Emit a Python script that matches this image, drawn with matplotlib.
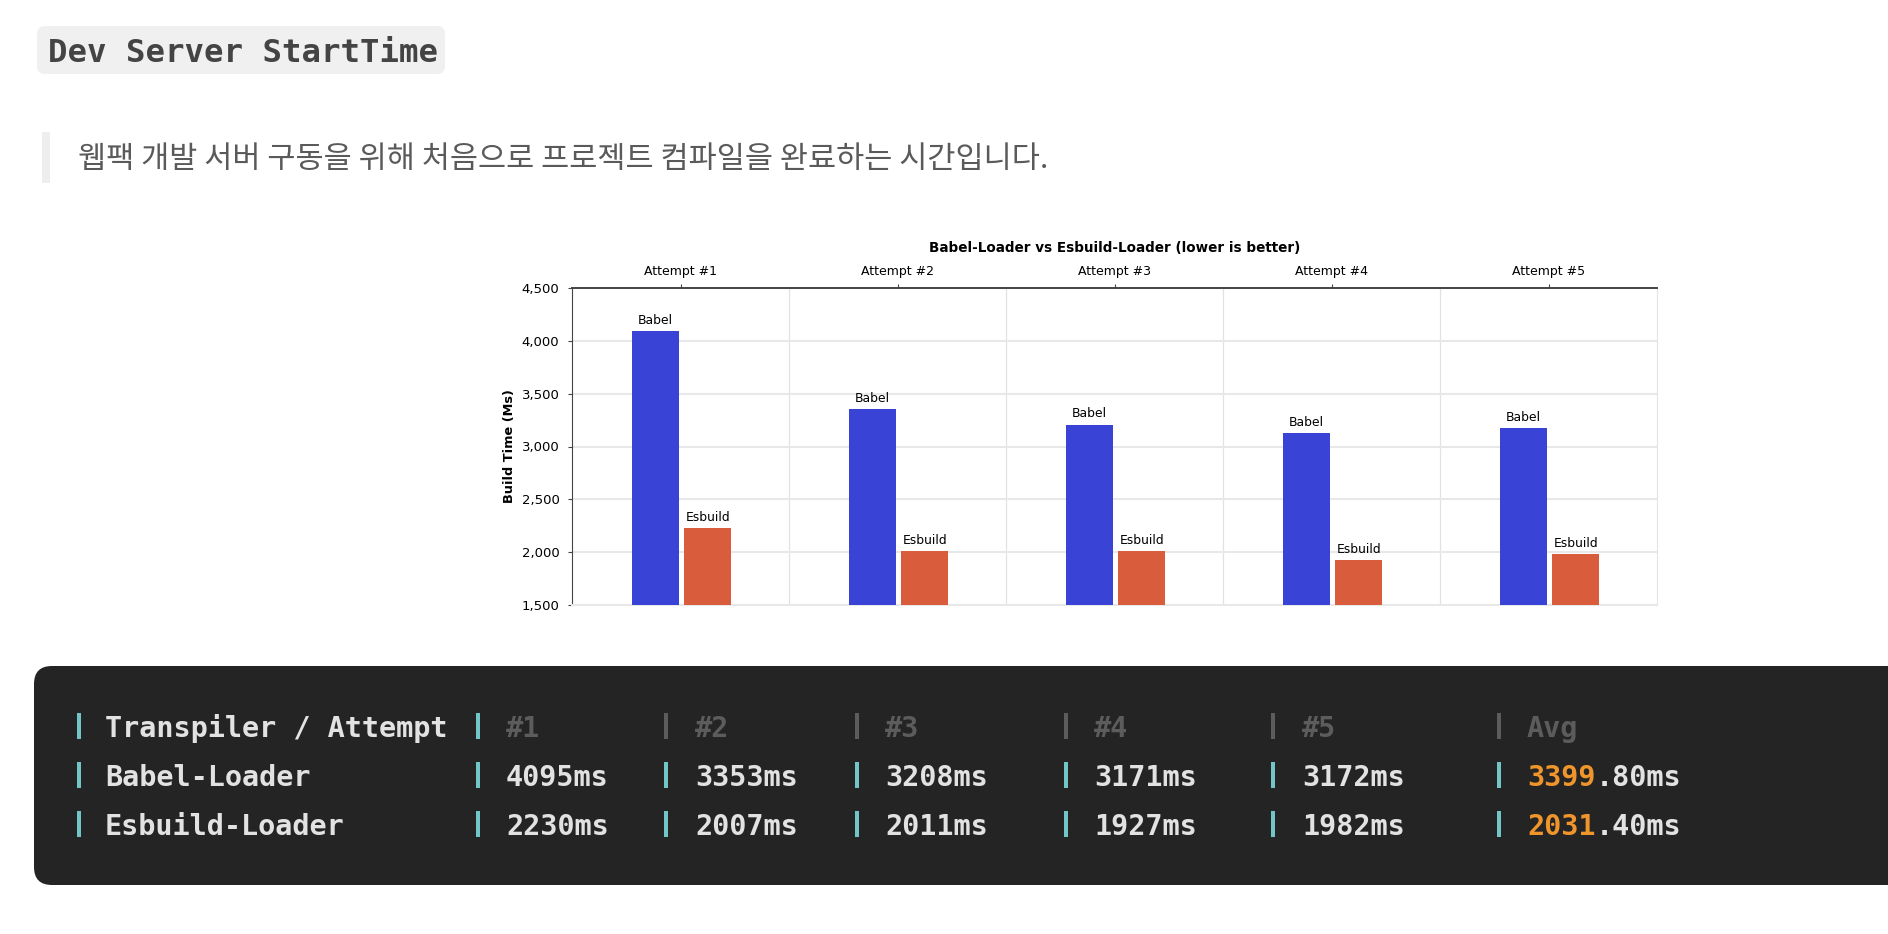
import matplotlib
matplotlib.use('Agg')
import matplotlib.pyplot as plt
import matplotlib.patches as mpatches
from matplotlib.ticker import FuncFormatter, FixedLocator
import numpy as np

# 차트 데이터
attempts = ['Attempt #1', 'Attempt #2', 'Attempt #3', 'Attempt #4', 'Attempt #5']
babel_chart = [4095, 3353, 3208, 3130, 3172]
esbuild_chart = [2230, 2007, 2011, 1927, 1982]

# 표 데이터
table_head = ['#1', '#2', '#3', '#4', '#5', 'Avg']
row_names = ['Babel-Loader', 'Esbuild-Loader']
babel_ms = [4095, 3353, 3208, 3171, 3172]
esbuild_ms = [2230, 2007, 2011, 1927, 1982]

title_text = 'Dev Server StartTime'
quote_text = '웹팩 개발 서버 구동을 위해 처음으로 프로젝트 컴파일을 완료하는 시간입니다.'

W, H = 1888, 934
fig = plt.figure(figsize=(W / 100, H / 100), dpi=100)
bg = fig.add_axes([0, 0, 1, 1])
bg.set_xlim(0, W)
bg.set_ylim(H, 0)
bg.axis('off')

mono = 'DejaVu Sans Mono'

# 1. 제목 (인라인 코드 박스)
bg.add_patch(mpatches.FancyBboxPatch((37, 26), 408, 48,
             boxstyle='round,pad=0,rounding_size=8', fc='#f0f0f0', ec='none'))
bg.text(48, 62, title_text, family=mono, weight='bold', fontsize=23.3,
        color='#444444', va='baseline', ha='left')

# 2. 인용문
bg.add_patch(mpatches.Rectangle((42, 132), 8, 51, fc='#eeeeee', ec='none'))
bg.text(78, 168, quote_text, family=['Noto Sans CJK KR', 'DejaVu Sans'],
        fontsize=22, color='#5a5a5a', va='baseline', ha='left')

# 3. 막대 차트
L, R, T, B = 572, 1657, 288, 605
ax = fig.add_axes([L / W, 1 - B / H, (R - L) / W, (B - T) / H])
x = np.arange(len(attempts))
bw = 0.22
b1 = ax.bar(x - 0.115, babel_chart, bw, color='#3944d6', zorder=3)
b2 = ax.bar(x + 0.125, esbuild_chart, bw, color='#d95d3c', zorder=3)
ax.bar_label(b1, labels=['Babel'] * len(x), padding=3, fontsize=8.9)
ax.bar_label(b2, labels=['Esbuild'] * len(x), padding=3, fontsize=8.9)

ax.set_xlim(-0.5, len(x) - 0.5)
ax.set_ylim(1500, 4500)
ax.set_yticks(np.arange(1500, 4501, 500))
ax.yaxis.set_major_formatter(FuncFormatter(lambda v, p: f'{v:,.0f}'))
ax.xaxis.tick_top()
ax.set_xticks(x)
ax.set_xticklabels(attempts, fontsize=9)
ax.xaxis.set_minor_locator(FixedLocator(x[:-1] + 0.5))
ax.tick_params(axis='x', which='major', length=3, pad=4, color='#444444')
ax.tick_params(axis='x', which='minor', length=0)
ax.tick_params(axis='y', length=3, pad=6, labelsize=9.5, color='#444444')
ax.grid(axis='y', color='#e8e8e8', lw=1.5, zorder=0)
ax.grid(axis='x', which='minor', color='#e2e2e2', lw=0.9, zorder=0)
ax.spines['top'].set_color('#444444')
ax.spines['top'].set_linewidth(1.4)
ax.spines['left'].set_color('#444444')
ax.spines['right'].set_color('#e4e4e4')
ax.spines['bottom'].set_color('#e8e8e8')
ax.spines['bottom'].set_linewidth(1.5)
ax.set_ylabel('Build Time (Ms)', fontsize=9.3, fontweight='bold')
ax.yaxis.set_label_coords((516 - L) / (R - L), 0.5)
ax.text(0.5, 1 + 40 / (B - T), 'Babel-Loader vs Esbuild-Loader (lower is better)',
        transform=ax.transAxes, ha='center', va='center', fontsize=9.75, fontweight='bold')

# 4. 결과 표 (다크 코드 블록)
bg.add_patch(mpatches.FancyBboxPatch((34, 666), 1900, 219,
             boxstyle='round,pad=0,rounding_size=18', fc='#242424', ec='none'))
fs = 20.5
adv = 0.602 * fs * 100 / 72
teal, dim, fg, orange = '#72c6c8', '#5c5c5c', '#e2e2e2', '#f0952c'
col_x = [506, 695, 885, 1094, 1302, 1527]
bar_x = [79, 478, 666, 857, 1066, 1273, 1499]
base_y = [737, 786, 835]


def vbar(xc, yb, c):
    bg.add_patch(mpatches.Rectangle((xc - 2, yb - 24), 4, 26, fc=c, ec='none'))


def mtext(xp, yp, s, c):
    bg.text(xp, yp, s, family=mono, weight='bold', fontsize=fs, color=c, va='baseline')


# 헤더 행
for i, bx in enumerate(bar_x):
    vbar(bx, base_y[0], teal if i < 2 else dim)
mtext(105, base_y[0], 'Transpiler / Attempt', fg)
for cx, h in zip(col_x, table_head):
    mtext(cx, base_y[0], h, dim)

# 값 행
for yb, name, vals in zip(base_y[1:], row_names, [babel_ms, esbuild_ms]):
    for bx in bar_x:
        vbar(bx, yb, teal)
    mtext(105, yb, name, fg)
    for cx, v in zip(col_x, vals):
        mtext(cx, yb, f'{v}ms', fg)
    avg = f'{np.mean(vals):.2f}'
    ip, fp = avg.split('.')
    mtext(col_x[-1], yb, ip, orange)
    mtext(col_x[-1] + len(ip) * adv, yb, '.' + fp + 'ms', fg)

fig.savefig('out.png', dpi=100)
